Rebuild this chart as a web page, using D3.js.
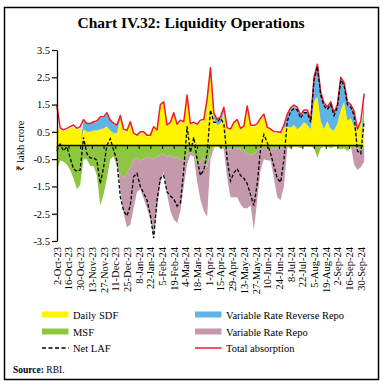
<!DOCTYPE html>
<html><head><meta charset="utf-8">
<script src="https://cdn.jsdelivr.net/npm/d3@7"></script>
<style>body{margin:0;background:#fff} svg{display:block}</style>
</head><body>
<script>
// ---- data (₹ lakh crore), one point every 4 days from 2-Oct-2023 ----
const startDate = "2023-10-02";
const stepDays = 4;
const sdf = [0.6,0.6,0.52,0.58,0.62,0.68,0.58,0.62,0.6,0.5,0.5,0.55,0.55,0.6,0.62,0.7,0.55,0.45,0.45,1.0,
0.55,0.5,0.82,0.4,0.33,0.45,0.45,0.33,0.33,0.64,0.52,1.45,1.55,0.7,0.8,1.15,0.73,0.88,0.82,1.8,
0.75,0.8,0.73,0.88,0.9,1.55,2.6,1.0,0.75,0.8,1.2,0.6,0.55,0.8,0.9,0.57,0.67,1.4,0.7,0.68,
0.75,0.95,1.05,0.62,0.55,0.46,0.45,0.43,0.65,0.7,0.65,0.75,0.6,0.7,0.85,0.75,0.6,1.6,1.8,0.9,
0.6,0.9,0.6,0.55,0.8,1.3,1.6,0.9,1.0,0.7,0.55,0.85,1.1];
const vrrr = [0,0,0,0,0,0,0,0,0.3,0.3,0.3,0.3,0.3,0.42,0.4,0.45,0.35,0.32,0.28,0.05,
0,0,0,0,0,0,0,0,0,0,0,0,0,0,0,0,0,0,0,0,
0,0,0,0,0,0.1,0.2,0.15,0.15,0.2,0.15,0,0,0,0,0,0,0,0,0,
0,0,0.05,0,0,0,0,0,0.05,0.4,0.68,0.68,0.75,0.37,0.4,0.5,0.28,0.85,1.15,1.0,
0.9,0.5,0.95,0.6,0.65,1.15,0.65,0.65,0.45,0.5,0,0,0.75];
const totalAbsorption = [1.48,0.65,0.57,0.63,0.69,0.75,0.63,0.69,0.95,0.81,0.81,0.87,0.9,1.05,1.05,1.2,0.93,0.81,0.75,1.1,
0.6,0.55,0.87,0.45,0.38,0.5,0.5,0.38,0.38,0.69,0.57,1.5,1.6,0.75,0.85,1.2,0.78,0.93,0.87,1.85,
0.8,0.85,0.78,0.93,0.95,1.7,2.85,1.2,0.95,1.05,1.4,0.65,0.6,0.85,0.95,0.62,0.72,1.45,0.75,0.73,
0.8,1.0,1.15,0.67,0.6,0.51,0.5,0.48,0.75,1.15,1.38,1.48,1.4,1.12,1.3,1.3,0.93,2.5,2.98,1.95,
1.55,1.42,1.6,1.2,1.5,2.5,2.3,1.6,1.5,1.25,0.6,0.9,1.9];
const msf = [-0.9,-0.55,-0.6,-0.7,-0.9,-1.2,-1.6,-1.45,-0.5,-0.5,-0.75,-0.75,-1.1,-2.2,-1.8,-1.2,-0.5,-0.4,-0.75,-1.0,
-1.2,-1.0,-0.8,-0.5,-0.45,-0.55,-0.5,-0.4,-0.45,-0.5,-0.4,-0.35,-0.3,-0.4,-0.35,-0.45,-0.4,-0.5,-0.6,-0.3,
-0.25,-0.3,-0.7,-0.6,-0.4,-0.8,-0.2,-0.05,-0.05,-0.1,-0.1,-0.15,-0.15,-0.1,-0.1,-0.15,-0.2,-0.3,-0.35,-0.3,
-0.2,-0.1,-0.05,-0.15,-0.15,-0.1,-0.1,-0.1,-0.1,-0.05,-0.1,-0.05,-0.05,-0.1,-0.05,-0.05,-0.05,-0.1,-0.45,-0.1,
-0.05,-0.05,-0.1,-0.05,-0.05,-0.15,-0.1,-0.2,-0.05,-0.1,-0.1,-0.15,-0.1];
const vrr = [0,0,0,0,0,0,0,0,0,0,0,0,0,0,0,0,0,0,0,-0.63,
-1.3,-2.0,-2.1,-1.8,-1.25,-1.05,-1.45,-1.9,-2.25,-2.8,-1.9,-1.05,-0.65,-1.4,-2.05,-2.25,-2.45,-1.9,-0.9,-0.4,
-0.1,-0.1,-0.6,-1.4,-2.0,-1.8,-0.3,-0.05,0,0,-0.05,-1.05,-1.75,-1.8,-1.8,-2.0,-2.1,-2.0,-1.85,-2.8,
-1.8,-0.8,-0.45,-0.4,-0.4,-1.1,-1.8,-1.9,-1.4,-0.05,0,0,0,0,0,0,0,0,0,0,
0,0,0,0,0,0,0,0,0,-0.6,-0.8,-0.65,-0.5];
const netLaf = [-0.2,0.05,-0.2,-0.05,-0.45,-0.85,-0.95,-0.9,0.3,-0.3,-0.45,-0.45,-0.55,-1.4,-0.8,0.0,0.25,-0.17,-0.55,-1.87,
-2.4,-2.58,-2.2,-1.14,-1.02,-1.5,-1.75,-2.0,-2.55,-3.4,-2.0,-1.2,-1.1,-1.7,-1.85,-1.95,-2.22,-2.1,-0.9,0.7,
-0.25,0.3,-0.5,-1.1,-0.9,-0.3,1.3,0.85,0.85,1.0,0.8,-0.5,-1.3,-1.0,-0.85,-1.1,-1.2,-1.4,-1.8,-2.2,
-1.4,-0.1,0.4,0.1,-0.3,-0.75,-1.2,-1.35,-0.5,0.9,1.25,1.35,1.3,1.0,1.2,1.2,0.85,2.4,2.9,1.85,
1.45,1.32,1.5,1.1,1.4,2.4,2.2,1.5,1.4,1.1,-0.2,-0.3,0.9];
const xTickLabels = ["2-Oct-23","16-Oct-23","30-Oct-23","13-Nov-23","27-Nov-23","11-Dec-23","25-Dec-23",
"8-Jan-24","22-Jan-24","5-Feb-24","19-Feb-24","4-Mar-24","18-Mar-24","1-Apr-24","15-Apr-24","29-Apr-24",
"13-May-24","27-May-24","10-Jun-24","24-Jun-24","8-Jul-24","22-Jul-24","5-Aug-24","19-Aug-24","2-Sep-24",
"16-Sep-24","30-Sep-24"];
const yTicks = [3.5,2.5,1.5,0.5,-0.5,-1.5,-2.5,-3.5];

// ---- drawing ----
const W=383,H=387;
const FONT='"Liberation Serif","Times New Roman",serif';
const COL={sdf:"#FFF500",vrrr:"#5EB4E6",msf:"#8DC641",vrr:"#C599AC",total:"#ED1C24"};
const svg=d3.select("body").append("svg").attr("width",W).attr("height",H);

svg.append("rect").attr("x",4.5).attr("y",7.5).attr("width",374).attr("height",372)
  .attr("fill","none").attr("stroke","#000").attr("stroke-width",1.5);
svg.append("text").attr("x",191).attr("y",28).attr("text-anchor","middle")
  .attr("font-family",FONT).attr("font-weight","bold").attr("font-size",15.5)
  .text("Chart IV.32: Liquidity Operations");

const parse=d3.timeParse("%Y-%m-%d");
const t0=parse(startDate);
const data=sdf.map((v,i)=>({date:d3.timeDay.offset(t0,i*stepDays),sdf:v,vrrr:vrrr[i],msf:msf[i],vrr:vrr[i],total:totalAbsorption[i],net:netLaf[i]}));
const tickParse=d3.timeParse("%d-%b-%y");
const tickDates=xTickLabels.map(tickParse);

const x=d3.scaleTime().domain([tickDates[0],tickDates[tickDates.length-1]]).range([56.8,360.8]);
const y=d3.scaleLinear().domain([-3.5,3.5]).range([241,50]);

const stack=d3.stack().keys(["sdf","vrrr","msf","vrr"]).offset(d3.stackOffsetDiverging);
const series=stack(data);
const area=d3.area().x(d=>x(d.data.date)).y0(d=>y(d[0])).y1(d=>y(d[1]));
svg.append("g").selectAll("path").data(series).join("path")
  .attr("fill",d=>COL[d.key]).attr("stroke","none").attr("d",area);

// zero axis with ticks
const x0=y(0);
svg.append("line").attr("x1",57).attr("x2",363).attr("y1",x0).attr("y2",x0)
  .attr("stroke","#000").attr("stroke-width",1.3);
const gx=svg.append("g").attr("transform",`translate(0,${x0})`)
  .call(d3.axisBottom(x).tickValues(tickDates).tickSize(3.5).tickFormat(""));
gx.select(".domain").remove();
gx.selectAll("line").attr("stroke","#000").attr("stroke-width",1);

// date labels at bottom
const gl=svg.append("g").attr("transform","translate(0,247)")
  .call(d3.axisBottom(x).tickValues(tickDates).tickSize(0).tickFormat((d,i)=>xTickLabels[i]));
gl.select(".domain").remove();
gl.selectAll("text").attr("font-family",FONT).attr("font-size",10.5).attr("fill","#000")
  .attr("transform","rotate(-90)").attr("x",0).attr("y",0).attr("dy","0.33em").attr("text-anchor","end");

// lines
const lineT=d3.line().x(d=>x(d.date)).y(d=>y(d.total));
svg.append("path").datum(data).attr("fill","none").attr("stroke",COL.total).attr("stroke-width",1.5)
  .attr("stroke-linejoin","round").attr("d",lineT);
const lineN=d3.line().x(d=>x(d.date)).y(d=>y(d.net));
svg.append("path").datum(data).attr("fill","none").attr("stroke","#000").attr("stroke-width",1.3)
  .attr("stroke-dasharray","3.5,2").attr("d",lineN);

// y axis
const gy=svg.append("g").attr("transform","translate(57,0)")
  .call(d3.axisLeft(y).tickValues(yTicks).tickSize(5).tickSizeOuter(0).tickFormat(d=>d.toFixed(1)));
gy.select(".domain").attr("stroke","#000").attr("stroke-width",1.3);
gy.selectAll("line").attr("stroke","#000").attr("stroke-width",1.2);
gy.selectAll("text").attr("font-family",FONT).attr("font-size",10.5).attr("fill","#000").attr("x",-7);

svg.append("text").attr("transform","translate(24,146) rotate(-90)").attr("text-anchor","middle")
  .attr("font-family",FONT).attr("font-size",10.5).text("₹ lakh crore");

// legend
const leg=[
  {k:"sdf",t:"Daily SDF",x:42,y:314.5,type:"rect"},
  {k:"vrrr",t:"Variable Rate Reverse Repo",x:195,y:314.5,type:"rect"},
  {k:"msf",t:"MSF",x:42,y:331.5,type:"rect"},
  {k:"vrr",t:"Variable Rate Repo",x:195,y:331.5,type:"rect"},
  {k:"net",t:"Net LAF",x:42,y:348,type:"dash"},
  {k:"total",t:"Total absorption",x:195,y:348,type:"line"}];
leg.forEach(l=>{
  if(l.type==="rect") svg.append("rect").attr("x",l.x).attr("y",l.y-3).attr("width",26.5).attr("height",6).attr("fill",COL[l.k]);
  else svg.append("line").attr("x1",l.x).attr("x2",l.x+26.5).attr("y1",l.y).attr("y2",l.y)
    .attr("stroke",l.type==="dash"?"#000":COL.total).attr("stroke-width",1.5)
    .attr("stroke-dasharray",l.type==="dash"?"4,2.5":null);
  svg.append("text").attr("x",l.x+31).attr("y",l.y+4).attr("font-family",FONT).attr("font-size",10.5).text(l.t);
});

const src=svg.append("text").attr("x",13).attr("y",373).attr("font-family",FONT).attr("font-size",9.5);
src.append("tspan").attr("font-weight","bold").text("Source:");
src.append("tspan").text(" RBI.");
</script>
</body></html>
